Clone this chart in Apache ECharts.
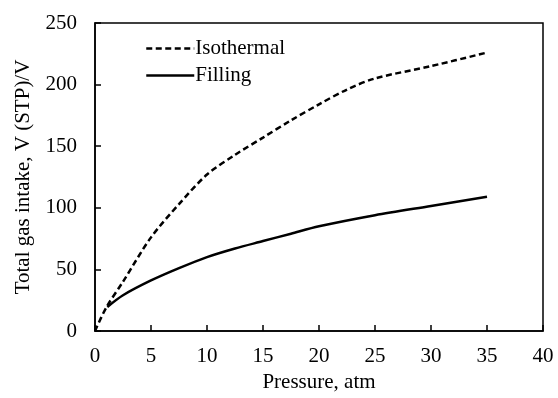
<!DOCTYPE html>
<html>
<head>
<meta charset="utf-8">
<script src="https://cdn.jsdelivr.net/npm/echarts@6/dist/echarts.min.js"></script>
<style>html,body{margin:0;padding:0;background:#fff;}#c{width:558px;height:398px;}</style>
</head>
<body>
<div id="c"></div>
<script>
const isoP = [0, 1, 2.5, 5, 7.5, 10, 12.5, 15, 17.5, 20, 22.5, 25, 30, 35];
const isoV = [0, 19, 40, 76, 103, 127, 143, 157, 171, 184, 196, 205, 215, 226];
const fillP = [1.1, 2.5, 5, 7.5, 10, 12.5, 15, 17.5, 20, 25, 30, 35];
const fillV = [19.5, 29, 41, 51, 60, 67, 73, 79, 85, 94, 101.5, 109];
const xTicks = [0, 5, 10, 15, 20, 25, 30, 35, 40];
const yTicks = [0, 50, 100, 150, 200, 250];

const font = 'Liberation Serif';
const fs = 21;
const chart = echarts.init(document.getElementById('c'));
chart.setOption({
  animation: false,
  backgroundColor: '#fff',
  textStyle: {fontFamily: font},
  grid: {left: 95, right: 15, top: 23, bottom: 67, show: true, borderColor: '#000', borderWidth: 1.5},
  legend: {
    orient: 'vertical', left: 140, top: 33, itemWidth: 48, itemHeight: 14, itemGap: 6,
    itemStyle: {opacity: 0},
    lineStyle: {width: 2.5},
    textStyle: {fontFamily: font, fontSize: fs, color: '#000', padding: [0, 0, 0, -4]},
    data: ['Isothermal', 'Filling']
  },
  xAxis: {
    type: 'value', min: xTicks[0], max: xTicks[xTicks.length - 1], interval: 5,
    name: 'Pressure, atm', nameLocation: 'middle', nameGap: 41,
    nameTextStyle: {fontFamily: font, fontSize: fs, color: '#000'},
    axisLine: {show: true, lineStyle: {color: '#000', width: 1.5}},
    axisTick: {show: true, inside: true, length: 6, lineStyle: {color: '#000', width: 1.5}},
    axisLabel: {fontFamily: font, fontSize: fs, color: '#000', margin: 15},
    splitLine: {show: false}
  },
  yAxis: {
    type: 'value', min: yTicks[0], max: yTicks[yTicks.length - 1], interval: 50,
    name: 'Total gas intake, V (STP)/V', nameLocation: 'middle', nameGap: 61,
    nameTextStyle: {fontFamily: font, fontSize: fs, color: '#000'},
    axisLine: {show: true, lineStyle: {color: '#000', width: 1.5}},
    axisTick: {show: true, inside: true, length: 6, lineStyle: {color: '#000', width: 1.5}},
    axisLabel: {fontFamily: font, fontSize: fs, color: '#000', margin: 18},
    splitLine: {show: false}
  },
  series: [
    {
      name: 'Isothermal', type: 'line', smooth: 0.3, symbol: 'none',
      data: isoP.map((p, i) => [p, isoV[i]]),
      lineStyle: {color: '#000', width: 2.5, type: [6, 3.5]},
      itemStyle: {color: '#000'}
    },
    {
      name: 'Filling', type: 'line', smooth: 0.3, symbol: 'none',
      data: fillP.map((p, i) => [p, fillV[i]]),
      lineStyle: {color: '#000', width: 2.5, type: 'solid'},
      itemStyle: {color: '#000'}
    }
  ]
});
</script>
</body>
</html>
